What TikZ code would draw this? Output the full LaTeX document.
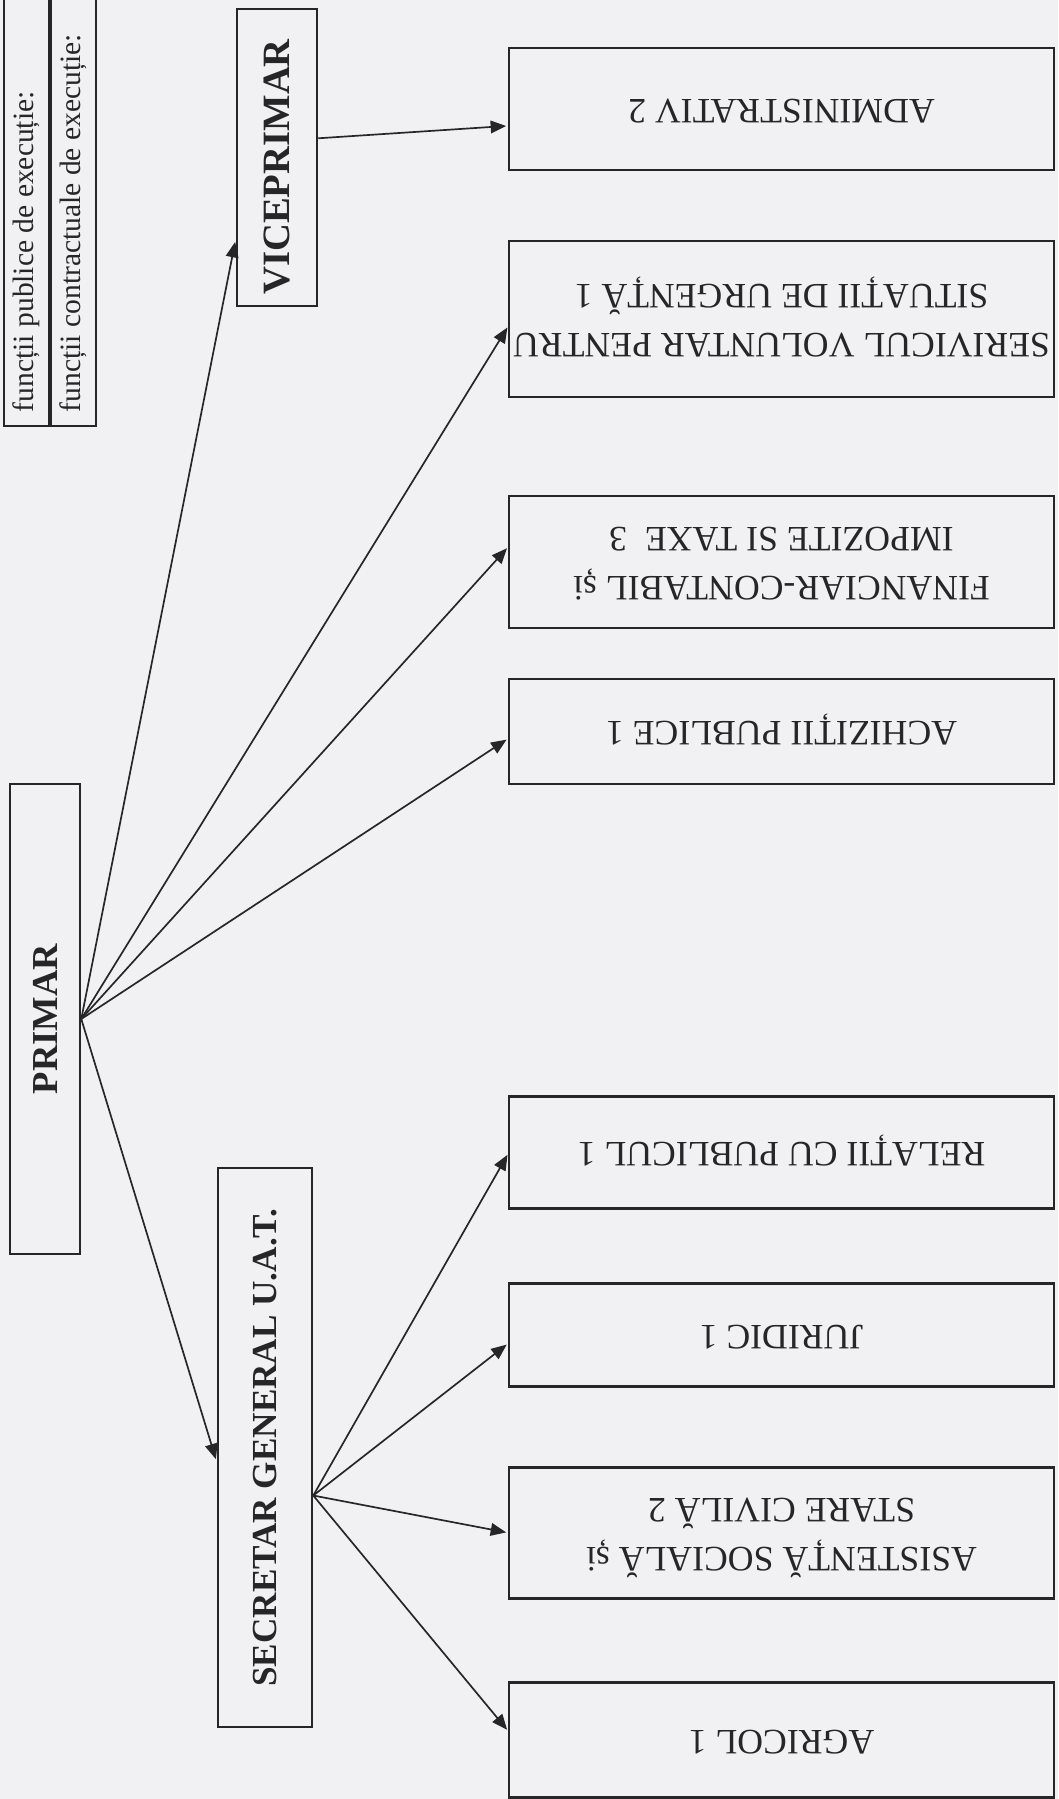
\documentclass[tikz,border=0pt]{standalone}
\usepackage{fontspec}
\setmainfont{Liberation Serif}
\usepackage{graphicx}
\usetikzlibrary{positioning,arrows.meta}
\definecolor{paper}{RGB}{241,241,243}
\definecolor{ink}{RGB}{38,38,40}
\newcommand{\flipbox}[1]{\rotatebox{180}{\begin{tabular}{@{}c@{}}#1\end{tabular}}}
\newcommand{\sidebox}[1]{\rotatebox{90}{#1}}

\tikzset{
  dept/.style={draw=ink, line width=0.9pt, minimum width=6.8125cm, inner sep=0pt, outer sep=0pt,
    font=\fontsize{12.7}{17.5}\selectfont, text=ink},
  chief/.style={draw=ink, line width=0.9pt, inner sep=0pt,
    font=\fontsize{13}{16}\selectfont\bfseries, text=ink},
  legendcell/.style={draw=ink, line width=0.7pt, minimum width=0.5625cm, inner xsep=0pt,
    inner ysep=0.175cm, text height=5.7375cm, anchor=south west,
    font=\fontsize{10.5}{12}\selectfont, text=ink},
  link/.style={->, line width=0.6pt, draw=ink, shorten >=1pt}
}

\begin{document}
\begin{tikzpicture}[x=0.0125cm, y=-0.0125cm, >={Triangle[length=5.5pt, width=4.5pt]}]
    \fill[paper] (0,0) rectangle (1058,1799);
    \useasboundingbox (0,0) rectangle (1058,1799);

    % Legend
    \node (pub) [legendcell] at (3,427) {\sidebox{funcții publice de execuție:}};
    \node (ctr) [legendcell] at (pub.south east) {\sidebox{funcții contractuale de execuție:}};

    % Leadership
    \node (prim) [chief, minimum width=0.875cm, minimum height=5.875cm] at (45,1019) {\sidebox{PRIMAR}};
    \node (vice) [chief, font=\fontsize{13.75}{16}\selectfont\bfseries, text height=3.43cm,
      minimum width=1cm, minimum height=3.7125cm] at (277,157.5) {\sidebox{VICEPRIMAR}};
    \node (secr) [chief, font=\fontsize{12.5}{16}\selectfont\bfseries, minimum width=1.175cm,
      minimum height=6.9875cm] at (265,1447.5) {\sidebox{SECRETAR GENERAL U.A.T.}};

    % Compartments
    \node (adm) [dept, minimum height=1.525cm] at (781.5,109) {\flipbox{ADMINISTRATIV 2}};
    \node (svsu) [dept, minimum height=1.95cm, below=0.8875cm of adm] {\flipbox{SERIVICUL VOLUNTAR PENTRU\\SITUAȚII DE URGENȚĂ 1}};
    \node (fin) [dept, minimum height=1.65cm, below=1.2375cm of svsu] {\flipbox{FINANCIAR-CONTABIL și\\IMPOZITE SI TAXE\ \ 3}};
    \node (ach) [dept, minimum height=1.3125cm, below=0.6375cm of fin] {\flipbox{ACHIZIȚII PUBLICE 1}};
    \node (rel) [dept, minimum height=1.4cm, below=3.9cm of ach] {\flipbox{RELAȚII CU PUBLICUL 1}};
    \node (jur) [dept, minimum height=1.2875cm, below=0.9375cm of rel] {\flipbox{JURIDIC 1}};
    \node (asis) [dept, minimum height=1.6375cm, below=1.0125cm of jur] {\flipbox{ASISTENȚĂ SOCIALĂ și\\STARE CIVILĂ 2}};
    \node (agr) [dept, minimum height=1.4375cm, below=1.05cm of asis] {\flipbox{AGRICOL 1}};

    % Arrows
    \draw[link] (prim.east) -- ([yshift=-1.02cm]vice.west);
    \draw[link] (prim.east) -- ([yshift=-0.075cm]svsu.west);
    \draw[link] (prim.east) -- ([yshift=0.2cm]fin.west);
    \draw[link] (prim.east) -- ([yshift=-0.08cm]ach.west);
    \draw[link] (prim.east) -- ([yshift=-0.18cm]secr.west);
    \draw[link] ([yshift=0.24cm]vice.east) -- ([yshift=-0.21cm]adm.west);
    \draw[link] ([yshift=-0.6cm]secr.east) -- (rel.west);
    \draw[link] ([yshift=-0.6cm]secr.east) -- ([yshift=-0.1cm]jur.west);
    \draw[link] ([yshift=-0.6cm]secr.east) -- (asis.west);
    \draw[link] ([yshift=-0.6cm]secr.east) -- ([yshift=0.1cm]agr.west);
\end{tikzpicture}
\end{document}
